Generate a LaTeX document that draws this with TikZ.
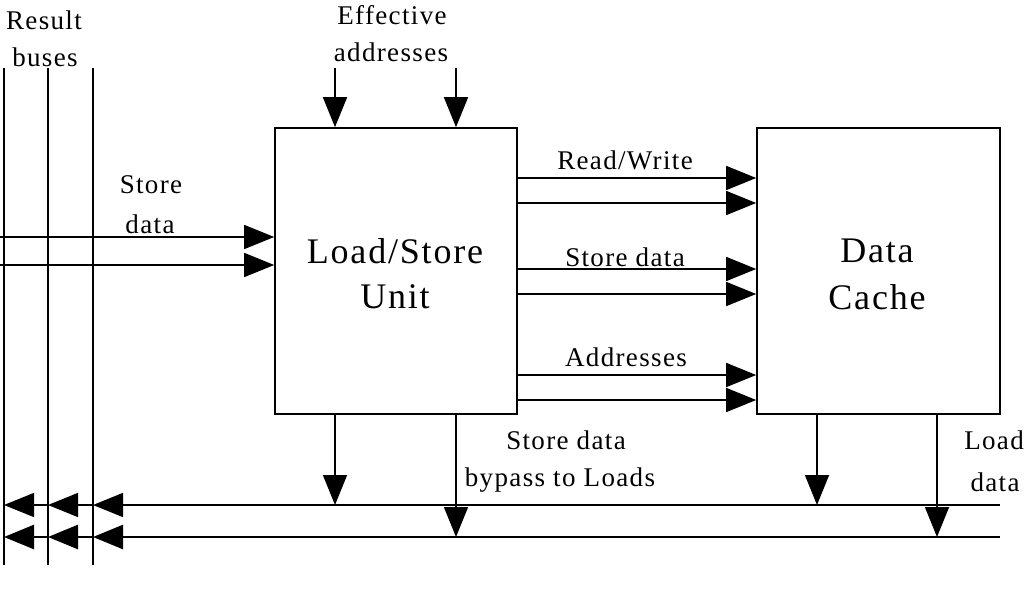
\documentclass[tikz,border=0pt]{standalone}
\usepackage{fontspec}
\setmainfont{Liberation Serif}[LetterSpace=5]
\usetikzlibrary{arrows.meta}
\begin{document}
\begin{tikzpicture}[x=1pt,y=-1pt,
  >={Triangle[length=30pt,width=24pt]},
  box/.style={draw,line width=1.6pt,inner sep=0pt},
  wire/.style={line width=1.5pt},
  thick wire/.style={line width=2.6pt},
  lbl/.style={font=\fontsize{27}{30}\selectfont,inner sep=0pt},
  big/.style={font=\fontsize{36}{40}\selectfont,inner sep=0pt}]
\useasboundingbox (0,0) rectangle (1024,604);
\fill[white] (0,0) rectangle (1024,604);

% boxes
\node[box,minimum width=242pt,minimum height=286pt] (lsu) at (396,271) {};
\node[box,minimum width=243pt,minimum height=286pt] (dc) at (878.5,271) {};
\node[big] (lsu1) at (395,251) {Load/Store};
\node[big] (lsu2) at (395,297) {Unit};
\node[big] (dc1) at (877,251) {Data};
\node[big] (dc2) at (877,297) {Cache};

% result bus lines
\coordinate (b1t) at (4,68);  \coordinate (b1b) at (4,565);
\coordinate (b2t) at (48,68); \coordinate (b2b) at (48,565);
\coordinate (b3t) at (93,68); \coordinate (b3b) at (93,565);
\draw[wire] (b1t) -- (b1b);
\draw[wire] (b2t) -- (b2b);
\draw[wire] (b3t) -- (b3b);
\node[lbl] (rb1) at (44,20) {Result};
\node[lbl] (rb2) at (45,57) {buses};

% effective addresses
\node[lbl] (ea1) at (392,15) {Effective};
\node[lbl] (ea2) at (391,52) {addresses};
\coordinate (ea1s) at (335,68);
\coordinate (ea2s) at (456,68);
\draw[wire,->] (ea1s) -- (ea1s |- lsu.north);
\draw[wire,->] (ea2s) -- (ea2s |- lsu.north);

% store data inputs
\node[lbl] (sd1) at (151,185) {Store};
\node[lbl] (sd2) at (150,224) {data};
\coordinate (si1) at (0,237);
\coordinate (si2) at (0,265);
\draw[wire,->] (si1) -- (si1 -| lsu.west);
\draw[wire,->] (si2) -- (si2 -| lsu.west);

% LSU -> cache
\foreach \yy in {178,203,269,294,375,400}{
  \draw[wire,->] (lsu.east |- 0,\yy) -- (dc.west |- 0,\yy);
}
\node[lbl] (rw) at (625,160) {Read/Write};
\node[lbl] (sdc) at (625,257) {Store data};
\node[lbl] (ad) at (626,357) {Addresses};

% bus lines at bottom
\coordinate (r1) at (1000,505);
\coordinate (r2) at (1000,537);
\draw[wire,->] (r1) -- (b3t |- r1);
\draw[wire,->] (b3t |- r1) -- (b2t |- r1);
\draw[wire,->] (b2t |- r1) -- (b1t |- r1);
\draw[thick wire,->] (r2) -- (b3t |- r2);
\draw[thick wire,->] (b3t |- r2) -- (b2t |- r2);
\draw[thick wire,->] (b2t |- r2) -- (b1t |- r2);

% down arrows
\draw[wire,->] (ea1s |- lsu.south) -- (ea1s |- r1);
\draw[wire,->] (ea2s |- lsu.south) -- (ea2s |- r2);
\coordinate (dcx1) at (817,0);
\coordinate (dcx2) at (937,0);
\draw[wire,->] (dcx1 |- dc.south) -- (dcx1 |- r1);
\draw[wire,->] (dcx2 |- dc.south) -- (dcx2 |- r2);

\node[lbl] (by1) at (566,440) {Store data};
\node[lbl] (by2) at (560,480) {bypass to Loads};
\node[lbl] (ld1) at (994,440) {Load};
\node[lbl] (ld2) at (995,482) {data};
\end{tikzpicture}
\end{document}
